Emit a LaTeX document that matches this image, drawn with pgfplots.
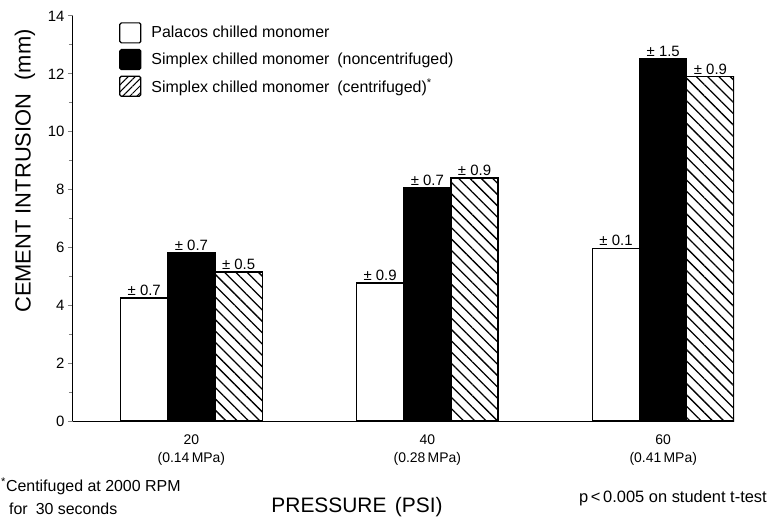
\documentclass[border=0pt]{standalone}
\usepackage{fontspec}
\setmainfont{Liberation Sans}
\usepackage{pgfplots}
\pgfplotsset{compat=1.18}
\usetikzlibrary{patterns.meta}

\begin{document}
\begin{tikzpicture}
\path[use as bounding box] (-73bp,-102bp) rectangle (695bp,421bp);
\begin{axis}[
  at={(0,0)}, anchor=south west,
  scale only axis, width=661bp, height=405bp,
  xmin=-0.502, xmax=2.30, ymin=0, ymax=14,
  axis x line*=bottom, axis y line*=left,
  axis line style={line width=1bp},
  ytick={0,2,...,14}, minor ytick={1,3,...,13},
  tick align=outside, major tick length=5bp, minor tick length=4bp,
  ytick style={line width=1bp},
  xtick={0,1,2},
  xticklabels={{20\\(0.14\,MPa)},{40\\(0.28\,MPa)},{60\\(0.41\,MPa)}},
  xticklabel style={align=center, font=\fontsize{14}{18}\selectfont, yshift=-5bp},
  x tick style={draw=none},
  yticklabel style={font=\fontsize{15}{16}\selectfont},
  /pgf/number format/assume math mode=true,
  legend style={at={(0.0696,0.985)}, anchor=north west, draw=none, fill=none,
    font=\fontsize{16}{18}\selectfont, row sep=5.5bp, inner sep=0pt,
    nodes={inner sep=1bp}, column sep=9bp, cells={anchor=west}},
  legend image code/.code={\draw[#1, rounded corners=1.5bp, line width=1.2bp] (0bp,-10bp) rectangle (21bp,10bp);},
  point meta=explicit symbolic,
  every node near coord/.append style={font=\fontsize{15}{17}\selectfont, anchor=south, inner sep=1.5bp, black},
]
\addlegendimage{draw=black, fill=white}
\addlegendentry{Palacos chilled monomer}
\addlegendimage{draw=black, fill=black}
\addlegendentry{Simplex chilled monomer\hspace{0.5em}(noncentrifuged)}
\addlegendimage{draw=black, pattern={Lines[angle=45, distance=5bp, line width=1bp]}}
\addlegendentry{Simplex chilled monomer\hspace{0.5em}(centrifuged)\textsuperscript{*}}

% Palacos chilled monomer (bars at group position - 0.2)
\addplot[ybar, bar width=0.2, bar shift=0, draw=black, fill=white, line width=1.3bp, nodes near coords, forget plot]
  coordinates {(-0.2,4.25) [±\ 0.7] (0.8,4.77) [±\ 0.9] (1.8,5.97) [±\ 0.1]};
% Simplex noncentrifuged
\addplot[ybar, bar width=0.2, bar shift=0, draw=black, fill=black, line width=1.3bp, nodes near coords, forget plot]
  coordinates {(0,5.81) [±\ 0.7] (1,8.05) [±\ 0.7] (2,12.53) [±\ 1.5]};
% Simplex centrifuged (bars at group position + 0.2)
\addplot[ybar, bar width=0.2, bar shift=0, draw=black, line width=1.3bp,
  pattern={Lines[angle=-45, distance=8bp, line width=1.3bp]}, nodes near coords, forget plot]
  coordinates {(0.2,5.15) [±\ 0.5] (1.2,8.40) [±\ 0.9] (2.2,11.90) [±\ 0.9]};
\end{axis}
\node[rotate=90, font=\fontsize{22}{26}\selectfont] at (-48bp,250bp) {CEMENT INTRUSION\hspace{0.6em}(mm)};
\node[font=\fontsize{21}{24}\selectfont] at (284bp,-86bp) {PRESSURE\hspace{0.4em}(PSI)};
\node[font=\fontsize{16}{18}\selectfont, anchor=west, inner sep=0pt] at (-72bp,-65bp) {\textsuperscript{*}Centifuged at 2000 RPM};
\node[font=\fontsize{16}{18}\selectfont, anchor=west, inner sep=0pt] at (-64bp,-88bp) {for\hspace{0.5em}30 seconds};
\node[font=\fontsize{16.5}{18}\selectfont, anchor=east, inner sep=0pt] at (694bp,-77bp) {p\,<\,0.005 on student t-test};
\end{tikzpicture}
\end{document}
